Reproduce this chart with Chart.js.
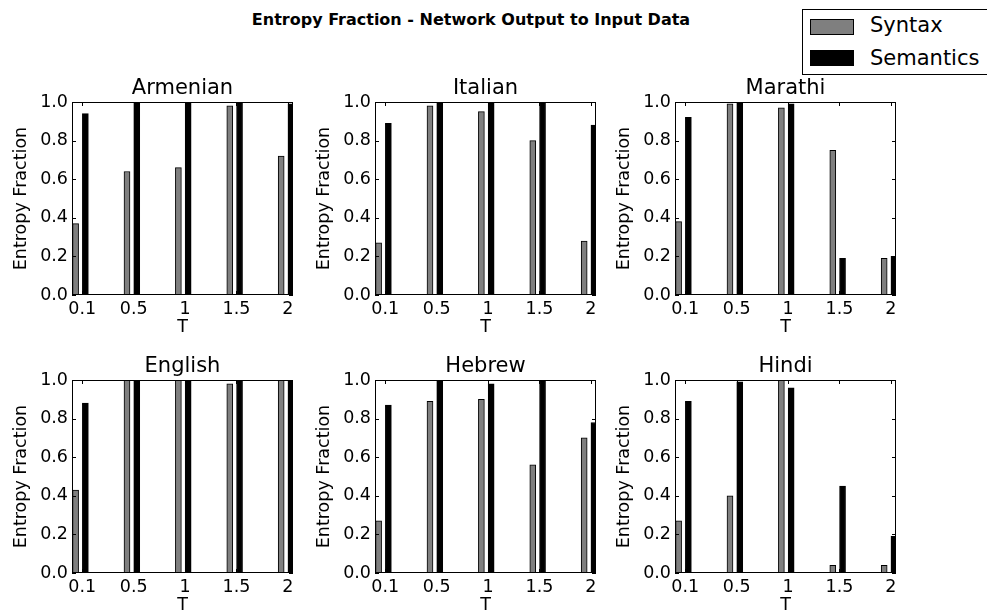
<!DOCTYPE html>
<html>
<head>
<meta charset="utf-8">
<script src="https://cdn.jsdelivr.net/npm/chart.js@4/dist/chart.umd.min.js"></script>
<style>
  body { margin: 0; background: #fff; width: 987px; height: 615px; overflow: hidden; position: relative; font-family: "DejaVu Sans", sans-serif; }
  canvas { position: absolute; }
  #suptitle { position: absolute; left: 0; width: 942px; top: 12px; text-align: center; font: bold 16px/16px "DejaVu Sans", sans-serif; color: #000; white-space: nowrap; }
  #legend { position: absolute; left: 802px; top: 9px; width: 200px; height: 64px; border: 1px solid #000; background: #fff; }
  .patch { position: absolute; left: 810px; width: 42px; height: 14px; border: 1px solid #000; }
  .ltext { position: absolute; left: 870px; font: 21px/21px "DejaVu Sans", sans-serif; color: #000; white-space: nowrap; }
</style>
</head>
<body>
<div id="suptitle">Entropy Fraction - Network Output to Input Data</div>

<script>
// temperature categories on the x axis
const tLabels = ['0.1', '0.5', '1', '1.5', '2'];
const languages = ['Armenian', 'Italian', 'Marathi', 'English', 'Hebrew', 'Hindi'];

// values
const syntaxArmenian    = [0.37, 0.64, 0.66, 0.98, 0.72];
const semanticsArmenian = [0.94, 1.00, 1.00, 1.00, 0.99];
const syntaxItalian     = [0.27, 0.98, 0.95, 0.80, 0.28];
const semanticsItalian  = [0.89, 1.00, 1.00, 1.00, 0.88];
const syntaxMarathi     = [0.38, 0.99, 0.97, 0.75, 0.19];
const semanticsMarathi  = [0.92, 1.00, 0.99, 0.19, 0.20];
const syntaxEnglish     = [0.43, 1.00, 1.00, 0.98, 1.00];
const semanticsEnglish  = [0.88, 1.00, 1.00, 1.00, 1.00];
const syntaxHebrew      = [0.27, 0.89, 0.90, 0.56, 0.70];
const semanticsHebrew   = [0.87, 1.00, 0.98, 1.00, 0.78];
const syntaxHindi       = [0.27, 0.40, 1.00, 0.04, 0.04];
const semanticsHindi    = [0.89, 0.99, 0.96, 0.45, 0.19];

const seriesNames = ['Syntax', 'Semantics'];
const seriesColors = ['#7f7f7f', '#000000'];

const syntaxByLang = [syntaxArmenian, syntaxItalian, syntaxMarathi, syntaxEnglish, syntaxHebrew, syntaxHindi];
const semanticsByLang = [semanticsArmenian, semanticsItalian, semanticsMarathi, semanticsEnglish, semanticsHebrew, semanticsHindi];

// layout of the 2x3 grid (plot area corners)
const plotLefts = [72, 375, 675];
const plotTops = [102, 380];
const plotW = 221, plotH = 193;
const padL = 72, padT = 45, padR = 15, padB = 50;

const FONT = '"DejaVu Sans", sans-serif';

// center each subplot title over its plot area, not the whole canvas
const titlePlugin = {
  id: 'centerTitle',
  afterLayout(chart) {
    const tb = chart.titleBlock;
    if (tb) {
      tb.left = chart.chartArea.left;
      tb.right = chart.chartArea.right;
      tb.width = tb.right - tb.left;
    }
  }
};

// black frame with inward ticks, like matplotlib
const framePlugin = {
  id: 'frame',
  afterDatasetsDraw(chart) {
    const { ctx, chartArea: a, scales: { x, y } } = chart;
    ctx.save();
    ctx.strokeStyle = '#000';
    ctx.lineWidth = 1;
    const L = Math.round(a.left), R = Math.round(a.right), T = Math.round(a.top), B = Math.round(a.bottom);
    ctx.strokeRect(L + 0.5, T + 0.5, R - L - 1, B - T - 1);
    ctx.beginPath();
    y.ticks.forEach(t => {
      const py = Math.round(y.getPixelForValue(t.value)) + 0.5;
      ctx.moveTo(L, py); ctx.lineTo(L + 4, py);
      ctx.moveTo(R, py); ctx.lineTo(R - 4, py);
    });
    x.ticks.forEach(t => {
      const px = Math.round(x.getPixelForValue(t.value)) + 0.5;
      ctx.moveTo(px, B); ctx.lineTo(px, B - 4);
      ctx.moveTo(px, T); ctx.lineTo(px, T + 4);
    });
    ctx.stroke();
    ctx.restore();
  }
};

languages.forEach((lang, k) => {
  const col = k % 3, row = Math.floor(k / 3);
  const cv = document.createElement('canvas');
  const w = padL + plotW + padR, h = padT + plotH + padB;
  cv.width = w; cv.height = h;
  cv.style.left = (plotLefts[col] - padL) + 'px';
  cv.style.top = (plotTops[row] - padT) + 'px';
  cv.style.width = w + 'px'; cv.style.height = h + 'px';
  document.body.appendChild(cv);

  const values = [syntaxByLang[k], semanticsByLang[k]];
  const offsets = [0.07, 0.26];

  new Chart(cv.getContext('2d'), {
    type: 'bar',
    data: {
      datasets: seriesNames.map((name, s) => ({
        label: name,
        data: values[s].map((v, i) => ({ x: i + offsets[s], y: v })),
        backgroundColor: seriesColors[s],
        borderColor: '#000',
        borderWidth: 1,
        barThickness: 6,
        grouped: false
      }))
    },
    options: {
      responsive: false,
      devicePixelRatio: 1,
      animation: false,
      layout: { padding: { left: 0, right: padR, top: 0, bottom: 0 } },
      plugins: {
        legend: { display: false },
        tooltip: { enabled: false },
        title: {
          display: true,
          text: lang,
          color: '#000',
          font: { family: FONT, size: 21, weight: 'normal', lineHeight: 1 },
          padding: { top: 21, bottom: 3 }
        }
      },
      scales: {
        x: {
          type: 'linear',
          min: 0,
          max: 4.3,
          offset: false,
          grid: { display: false, drawTicks: false, offset: false },
          border: { display: false },
          afterBuildTicks: s => { s.ticks = tLabels.map((_, i) => ({ value: i + 0.2 })); },
          afterFit: s => { s.height = padB; s.paddingLeft = 0; s.paddingRight = 0; },
          ticks: {
            autoSkip: false,
            maxRotation: 0,
            padding: 4,
            color: '#000',
            font: { family: FONT, size: 17.5 },
            callback: (v, i) => tLabels[i]
          },
          title: {
            display: true,
            text: 'T',
            color: '#000',
            font: { family: FONT, size: 17.5, lineHeight: 1.2 },
            padding: { top: 0, bottom: 7 }
          }
        },
        y: {
          min: 0,
          max: 1,
          grid: { display: false, drawTicks: false },
          border: { display: false },
          afterFit: s => { s.width = padL; s.paddingTop = 0; s.paddingBottom = 0; },
          ticks: {
            stepSize: 0.2,
            padding: 4,
            color: '#000',
            font: { family: FONT, size: 17.5 },
            callback: v => v.toFixed(1)
          },
          title: {
            display: true,
            text: 'Entropy Fraction',
            color: '#000',
            font: { family: FONT, size: 17.5, lineHeight: 1.2 },
            padding: { top: 11, bottom: 0 }
          }
        }
      }
    },
    plugins: [titlePlugin, framePlugin]
  });
});
</script>

<div id="legend"></div>
<div class="patch" style="top:19px; background:#7f7f7f;"></div>
<div class="patch" style="top:50px; background:#000;"></div>
<div class="ltext" style="top:15px;">Syntax</div>
<div class="ltext" style="top:48px;">Semantics</div>
</body>
</html>
